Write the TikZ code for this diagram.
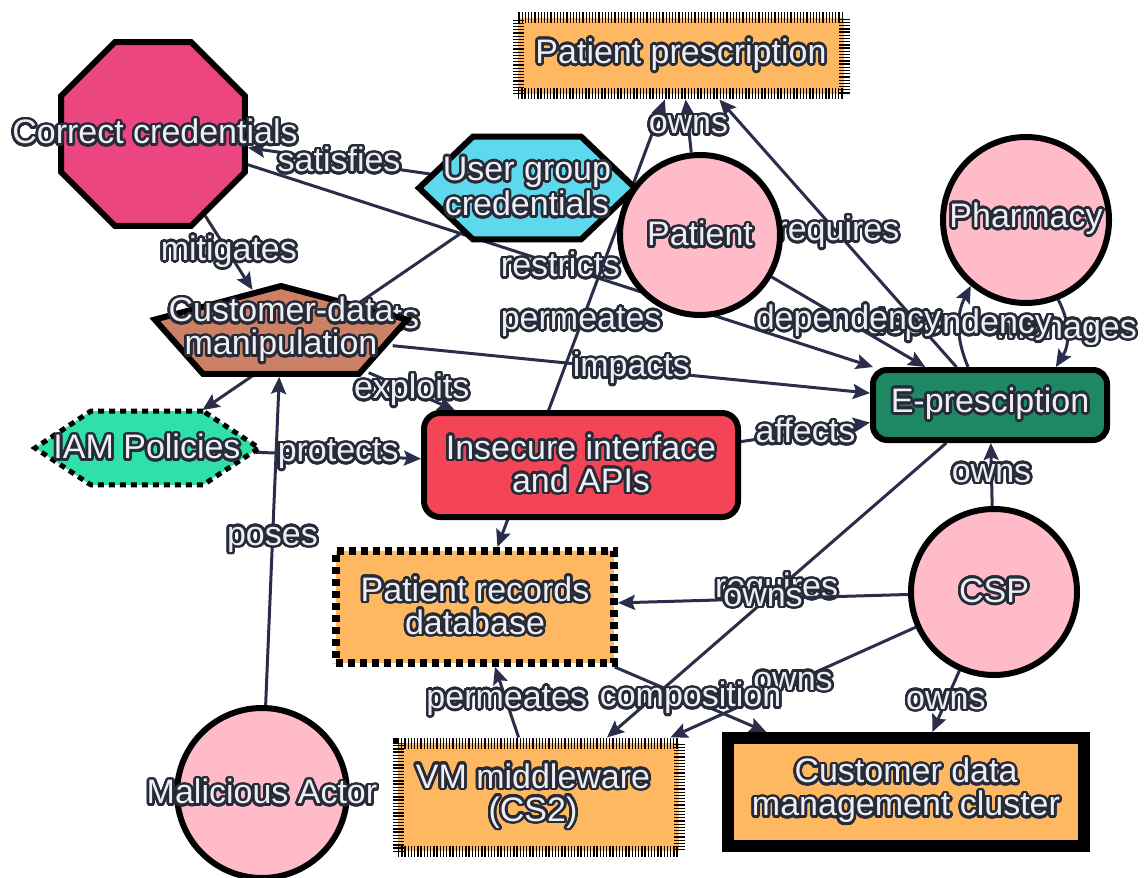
\documentclass[tikz,border=0pt]{standalone}
\usepackage{fontspec}
\setmainfont{Liberation Sans}
\usepackage{contour}
\usetikzlibrary{shapes.geometric,arrows.meta}

\definecolor{orangefill}{HTML}{FFB862}
\definecolor{credfill}{HTML}{EC4680}
\definecolor{groupfill}{HTML}{5ED8EC}
\definecolor{pinkfill}{HTML}{FFBCC8}
\definecolor{threatfill}{HTML}{CC8066}
\definecolor{servicefill}{HTML}{1E8763}
\definecolor{policyfill}{HTML}{2FE0A9}
\definecolor{vulnfill}{HTML}{F44557}
\definecolor{edgecol}{HTML}{2B2D4B}
\definecolor{halodark}{HTML}{272B37}
\definecolor{txtlight}{HTML}{EEEEF5}

% light glyphs with a dark rim
\contourlength{2.6pt}
\contournumber{32}
\newcommand{\halo}[1]{\contour{halodark}{#1}}

\pgfdeclarelayer{edges}
\pgfsetlayers{edges,main}

\tikzset{
  shapebase/.style={draw=black, line width=6pt, inner sep=0pt},
  txt/.style={font=\fontsize{34}{33}\selectfont, text=txtlight, align=center, inner sep=0pt},
  lbl/.style={font=\fontsize{34}{33}\selectfont, text=txtlight, inner sep=0pt, midway},
  link/.style={draw=edgecol, line width=3pt, ->},
  circ/.style={shapebase, circle, fill=pinkfill},
  hatchbox/.style={shapebase, rectangle, fill=orangefill, line width=11pt, dash pattern=on 1.3pt off 1.9pt},
  squarebox/.style={shapebase, rectangle, fill=orangefill, line width=8pt, dash pattern=on 7pt off 5pt},
}

\begin{document}
\begin{tikzpicture}[x=1pt, y=-1pt, >={Stealth[length=17pt,width=15pt,inset=3pt]}]
\useasboundingbox (0,0) rectangle (1147,877);

% ---------- nodes ----------
\node[hatchbox, minimum width=326pt, minimum height=76pt] (pp) at (681,56) {};
\node[shapebase, regular polygon, regular polygon sides=8, minimum size=199pt, fill=credfill] (cc) at (153,134) {};
\begin{scope}[shift={(527,188)}, yscale=0.55]
  \node[shapebase, regular polygon, regular polygon sides=6, minimum size=216pt, fill=groupfill, transform shape] (ugc) at (0,0) {};
\end{scope}
\begin{scope}[shift={(281,334.6)}, xscale=2.73]
  \node[shapebase, regular polygon, regular polygon sides=5, minimum size=97.2pt, fill=threatfill, transform shape] (cdm) at (0,0) {};
\end{scope}
\begin{scope}[shift={(147,448)}, yscale=0.381]
  \node[shapebase, regular polygon, regular polygon sides=6, minimum size=224pt, fill=policyfill, transform shape, line width=5pt, dash pattern=on 6pt off 5pt] (iam) at (0,0) {};
\end{scope}
\node[circ, minimum size=160pt] (pt) at (700,235) {};
\node[circ, minimum size=166pt] (ph) at (1026,220) {};
\node[circ, minimum size=166pt] (csp) at (994,592) {};
\node[circ, minimum size=170pt] (ma) at (262,793) {};
\node[shapebase, rectangle, rounded corners=14pt, fill=servicefill, minimum width=234pt, minimum height=70pt] (ep) at (990,405) {};
\node[shapebase, rectangle, rounded corners=16pt, fill=vulnfill, minimum width=314pt, minimum height=104pt] (ins) at (581,465) {};
\node[squarebox, minimum width=278pt, minimum height=112pt] (prd) at (475,607) {};
\node[hatchbox, minimum width=281pt, minimum height=108pt] (vm) at (538.5,797) {};
\node[shapebase, rectangle, line width=12pt, fill=orangefill, minimum width=356pt, minimum height=108pt] (cl) at (906,792) {};

% ---------- node texts ----------
\node[txt] at (pp) {\halo{Patient prescription}};
\node[txt] at (155,133) {\halo{Correct credentials}};
\node[txt] at (ugc) {\halo{User group}\\\halo{credentials}};
\node[txt] at (281,331) {\halo{Customer-data}\\\halo{manipulation}};
\node[txt] at (iam) {\halo{IAM Policies}};
\node[txt] at (pt) {\halo{Patient}};
\node[txt] at (ph) {\halo{Pharmacy}};
\node[txt] at (csp) {\halo{CSP}};
\node[txt] at (ma) {\halo{Malicious Actor}};
\node[txt] at (ep) {\halo{E-presciption}};
\node[txt] at (ins) {\halo{Insecure interface}\\\halo{and APIs}};
\node[txt] at (prd) {\halo{Patient records}\\\halo{database}};
\node[txt] at (533,797) {\halo{VM middleware}\\\halo{(CS2)}};
\node[txt] at (cl) {\halo{Customer data}\\\halo{management cluster}};

% ---------- connectors ----------
\begin{pgfonlayer}{edges}
\draw[link] (ugc) -- node[lbl] {\halo{implements}} (iam);
\draw[link] (ugc) -- node[lbl] {\halo{satisfies}} (cc);
\draw[link] (cc) -- node[lbl] {\halo{mitigates}} (cdm);
\draw[link] (cc) -- node[lbl] {\halo{restricts}} (ep);
\draw[link] (cdm) -- node[lbl] {\halo{impacts}} (ep);
\draw[link] (cdm) -- node[lbl] {\halo{exploits}} (ins);
\draw[link] (iam) -- node[lbl] {\halo{protects}} (ins);
\draw[link] (ma) -- node[lbl] {\halo{poses}} (cdm);
\draw[link, <->] (prd) -- node[lbl] {\halo{permeates}} (pp);
\draw[link] (ins) -- node[lbl] {\halo{affects}} (ep);
\draw[link] (pt) -- node[lbl] {\halo{owns}} (pp);
\draw[link] (ep) -- node[lbl] {\halo{requires}} (pp);
\draw[link] (ph.-68) to[bend left=30] node[lbl] {\halo{manages}} (ep.30);
\draw[link] (ep.120) to[bend left=25] node[lbl] {\halo{dependency}} (ph.230);
\draw[link] (pt) -- node[lbl] {\halo{dependency}} (ep);
\draw[link] (csp) -- node[lbl] {\halo{owns}} (ep);
\draw[link] (ep) -- node[lbl] {\halo{requires}} (vm);
\draw[link] (csp) -- node[lbl] {\halo{owns}} (prd);
\draw[link] (csp) -- node[lbl] {\halo{owns}} (vm);
\draw[link] (csp) -- node[lbl] {\halo{owns}} (cl);
\draw[link] (prd) -- node[lbl] {\halo{composition}} (cl);
\draw[link] (vm) -- node[lbl] {\halo{permeates}} (prd);
\end{pgfonlayer}
\end{tikzpicture}
\end{document}
